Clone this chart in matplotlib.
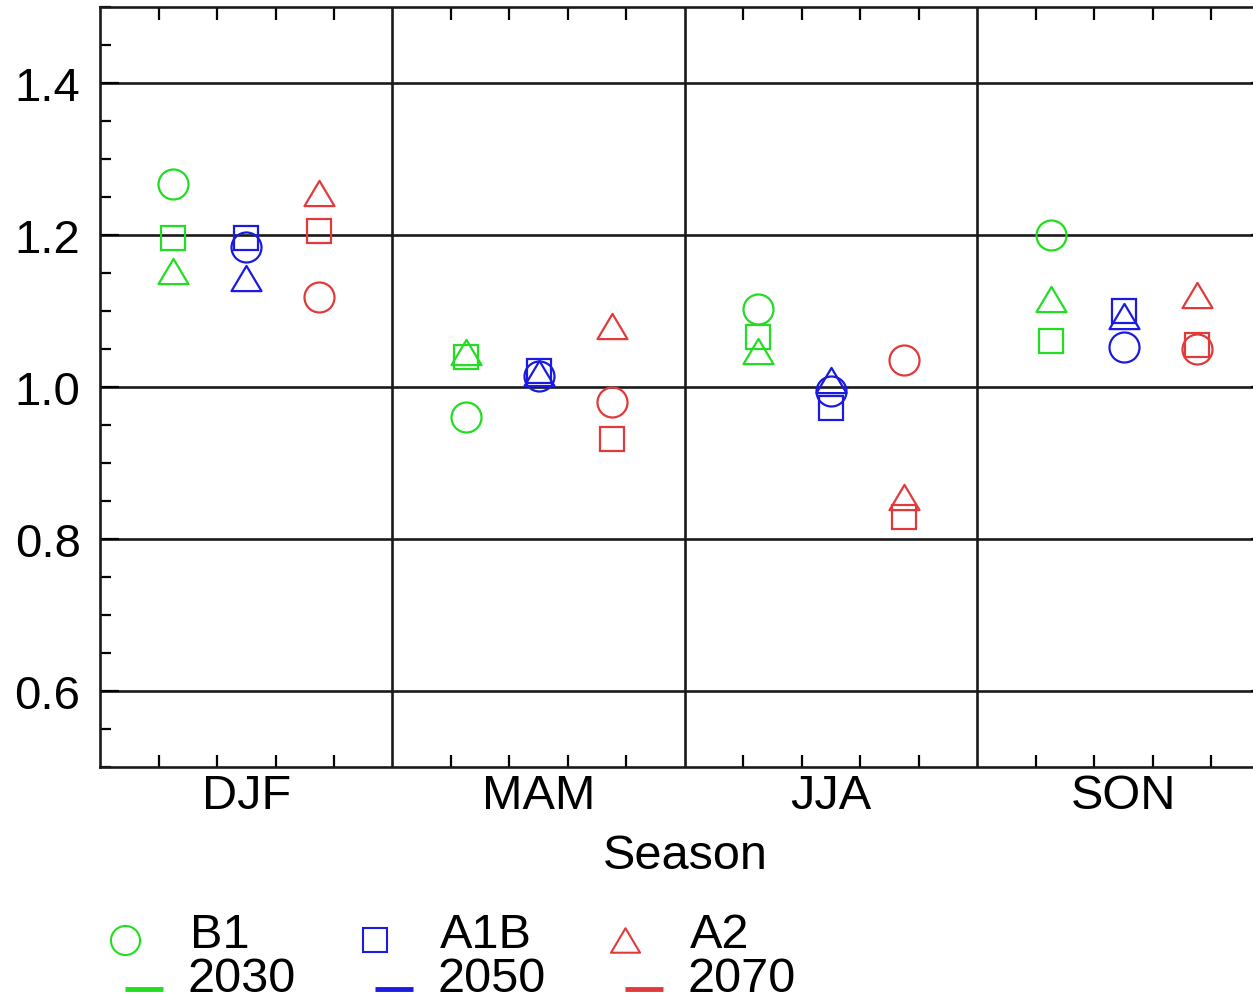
import numpy as np
import matplotlib
matplotlib.use("Agg")
import matplotlib.pyplot as plt
from matplotlib.path import Path

plt.rcParams['font.family'] = ['Liberation Sans', 'DejaVu Sans']

seasons = ['DJF', 'MAM', 'JJA', 'SON']
periods = ['2030', '2050', '2070']
scenarios = ['B1', 'A1B', 'A2']

# ratio per season, one value per period (2030, 2050, 2070)
b1 = [[1.267, 1.184, 1.118],
      [0.961, 1.015, 0.980],
      [1.102, 0.995, 1.036],
      [1.200, 1.052, 1.050]]
a1b = [[1.196, 1.196, 1.205],
       [1.039, 1.021, 0.932],
       [1.066, 0.973, 0.829],
       [1.060, 1.100, 1.055]]
a2 = [[1.153, 1.144, 1.255],
      [1.046, 1.019, 1.080],
      [1.048, 1.009, 0.855],
      [1.116, 1.094, 1.121]]

colors = ['#22dd22', '#1a1ae0', '#e03a3a']
# IDL-like symbols: flat triangle, smaller square
tri = Path([(-0.5, -0.42), (0.5, -0.42), (0.0, 0.42), (-0.5, -0.42)],
           [Path.MOVETO, Path.LINETO, Path.LINETO, Path.CLOSEPOLY])
markers = [('o', 21.6), ('s', 17.3), (tri, 21.6)]

fig = plt.figure(figsize=(12.53, 10.03), dpi=100)
ax = fig.add_axes([100/1253, 1 - 768/1003, 1170/1253, 760/1003])

offsets = [0.25, 0.5, 0.75]
for data, (mk, ms) in zip([b1, a1b, a2], markers):
    data = np.array(data)
    for j, c in enumerate(colors):
        xs = np.arange(len(seasons)) + offsets[j]
        ax.plot(xs, data[:, j], linestyle='none', marker=mk, ms=ms,
                mfc='none', mec=c, mew=1.6)

ax.set_xlim(0, 4)
ax.set_ylim(0.5, 1.5)

# horizontal grid and season separators
for yv in [0.6, 0.8, 1.0, 1.2, 1.4]:
    ax.axhline(yv, color='#1a1a1a', lw=1.9, zorder=0)
for xv in [1, 2, 3]:
    ax.axvline(xv, color='#1a1a1a', lw=1.9, zorder=0)

ax.set_yticks([0.6, 0.8, 1.0, 1.2, 1.4])
ax.set_yticklabels(['0.6', '0.8', '1.0', '1.2', '1.4'])
ax.set_yticks(np.arange(0.5, 1.501, 0.05), minor=True)
ax.tick_params(axis='y', which='both', direction='in', left=True, right=True,
               width=1.6, labelsize=34, pad=14)
ax.tick_params(axis='y', which='major', length=14)
ax.tick_params(axis='y', which='minor', length=8)

minor_x = [i + k/5 for i in range(4) for k in range(1, 5)]
ax.set_xticks(minor_x, minor=True)
ax.set_xticks(np.arange(4) + 0.5)
ax.set_xticklabels(seasons)
ax.tick_params(axis='x', which='major', length=0, labelsize=35, pad=4)
ax.tick_params(axis='x', which='minor', direction='in', top=True, bottom=True,
               length=9, width=1.6)
ax.set_xlabel('Season', fontsize=35, labelpad=11)

for sp in ax.spines.values():
    sp.set_linewidth(1.9)
    sp.set_color('#1a1a1a')

# legend block in pixel coordinates
lg = fig.add_axes([0, 0, 1, 1])
lg.set_xlim(0, 1253)
lg.set_ylim(1003, 0)
lg.axis('off')
lg.patch.set_alpha(0)
for k in range(3):
    x0 = 125 + 250 * k
    mk, ms = markers[k]
    lg.plot([x0], [941], linestyle='none', marker=mk, ms=ms * 0.97,
            mfc='none', mec=colors[k], mew=1.5)
    lg.plot([x0, x0 + 38], [990, 990], color=colors[k], lw=3.5,
            solid_capstyle='butt')
    lg.text(x0 + 65, 948, scenarios[k], fontsize=35, va='baseline', ha='left')
    lg.text(x0 + 63, 992, periods[k], fontsize=35, va='baseline', ha='left')

fig.savefig('out.png', dpi=100)
